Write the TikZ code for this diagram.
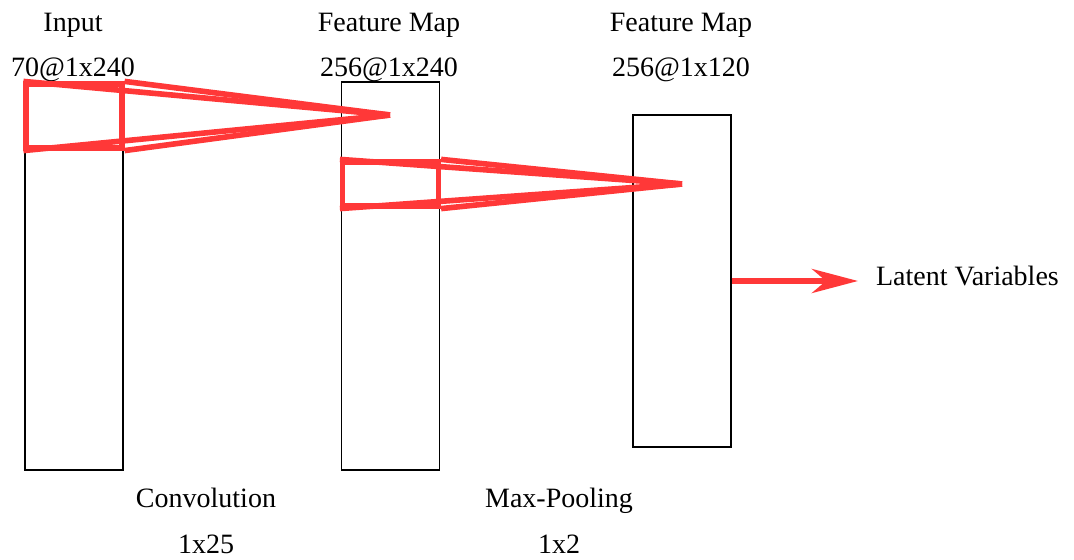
\documentclass[tikz,border=0pt]{standalone}
\usepackage{fontspec}
\setmainfont{Liberation Serif}
\usetikzlibrary{arrows.meta}
\definecolor{kernelred}{HTML}{FF3838}

\begin{document}
\begin{tikzpicture}[x=0.5pt, y=-0.5pt,
every node/.style = {font=\fontsize{14}{16}\selectfont},
layer/.style = {draw, line width=0.6pt, inner sep=0pt, minimum width=49pt},
kernel/.style = {draw=kernelred, line width=2.6pt, inner sep=0pt, minimum width=48pt},
ray/.style = {draw=kernelred, line width=2.8pt},
label/.style = {anchor=base}]

\useasboundingbox (0,0) rectangle (1074,560);

% layers
\node[layer, minimum height=194pt] (input) at (74,276) {};
\node[layer, minimum height=194pt] (fmap1) at (390.5,276) {};
\node[layer, minimum height=166pt] (fmap2) at (682,281) {};

% titles
\node[label] (inputname) at (73,32) {Input};
\node[label] (inputsize) at (73,77) {70@1x240};
\node[label] (fmapone) at (389,32) {Feature Map};
\node[label] (fmaponesize) at (389,77) {256@1x240};
\node[label] (fmaptwo) at (681,32) {Feature Map};
\node[label] (fmaptwosize) at (681,77) {256@1x120};

% operations
\node[label] (conv) at (206,507) {Convolution};
\node[label] (convsize) at (206,553) {1x25};
\node[label] (pool) at (559,507) {Max-Pooling};
\node[label] (poolsize) at (559,553) {1x2};

% kernels
\node[kernel, minimum height=32pt] (convwin) at (74,116) {};
\coordinate (convtip) at (390,115);
\node[kernel, minimum height=22pt] (poolwin) at (390.5,184) {};
\coordinate (pooltip) at (682,184);
\foreach \c in {north west, north east, south west, south east} {
  \draw[ray] (convwin.\c) -- (convtip);
  \draw[ray] (poolwin.\c) -- (pooltip);
}

% output
\node[anchor=west] (latent) at (869,276) {Latent Variables};
\draw[ray, line width=3pt, -{Stealth[length=23pt, width=12pt, inset=7pt]}, shorten >=5.5pt]
  (fmap2.east) -- (fmap2.east -| latent.west);
\end{tikzpicture}
\end{document}
